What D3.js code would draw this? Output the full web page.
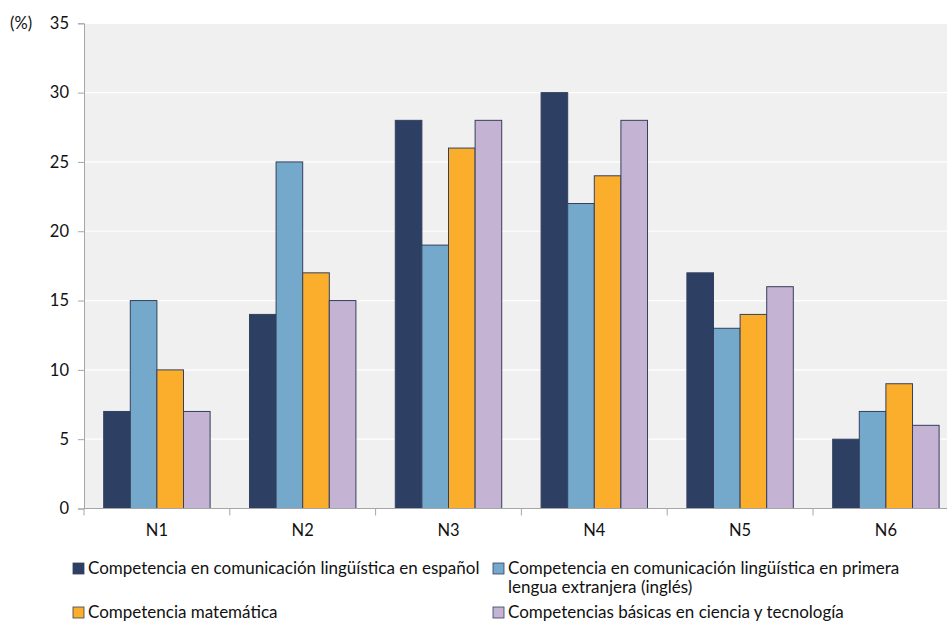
<!DOCTYPE html>
<html><head><meta charset="utf-8">
<script src="https://cdn.jsdelivr.net/npm/d3@7"></script>
<style>
body{margin:0;background:#fff;}
svg text{font-family:Lato,"Open Sans",sans-serif;fill:#111;}
</style></head>
<body><svg id="c" width="947" height="625"></svg>
<script>
const categories = ["N1","N2","N3","N4","N5","N6"];
const seriesNames = [
  "Competencia en comunicación lingüística en español",
  "Competencia en comunicación lingüística en primera lengua extranjera (inglés)",
  "Competencia matemática",
  "Competencias básicas en ciencia y tecnología"
];
const espanol = [7,14,28,30,17,5];
const ingles  = [15,25,19,22,13,7];
const matematica = [10,17,26,24,14,9];
const ciencia = [7,15,28,28,16,6];
const yTicks = [0,5,10,15,20,25,30,35];
const colors = ["#2d3f63","#74a9cb","#fbae2c","#c4b3d2"];

const series = [espanol, ingles, matematica, ciencia];
const svg = d3.select("#c");
const x0 = 84, bandW = 145.8;
const x = d3.scaleBand().domain(categories).range([x0, x0 + bandW*6]).paddingInner(0).paddingOuter(0);
const xs = d3.scaleBand().domain(d3.range(4)).range([0, x.bandwidth()]).paddingOuter(0.74).paddingInner(0);
const y = d3.scaleLinear().domain([0,35]).range([508.5, 23.3]);

svg.append("rect").attr("x", x0).attr("y", y(35)).attr("width", 947 - x0).attr("height", y(0)-y(35)).attr("fill","#f0f0f0");
svg.append("g").selectAll("line").data(yTicks.filter(d=>d>0)).join("line")
  .attr("x1", x0).attr("x2", 947).attr("y1", d=>y(d)).attr("y2", d=>y(d))
  .attr("stroke","#fff").attr("stroke-width",1.2);

const g = svg.append("g");
series.forEach((vals, si) => {
  g.append("g").selectAll("rect").data(vals).join("rect")
    .attr("x", (d,i)=>x(categories[i]) + xs(si))
    .attr("y", d=>y(d))
    .attr("width", xs.bandwidth())
    .attr("height", d=>y(0)-y(d))
    .attr("fill", colors[si])
    .attr("stroke", "#34405e").attr("stroke-width", 1);
});

const axisFont = 16.5;
const yAxis = d3.axisLeft(y).tickValues(yTicks).tickSize(6).tickPadding(9);
const ya = svg.append("g").attr("transform", `translate(${x0},0)`).call(yAxis);
ya.select(".domain").attr("stroke","#a6a6a6");
ya.selectAll(".tick line").attr("stroke","#a6a6a6");
ya.selectAll(".tick text").attr("font-size", axisFont).attr("font-family","Lato,sans-serif").attr("fill","#111");

const xAxis = d3.axisBottom(x).tickSize(0).tickPadding(16);
const xa = svg.append("g").attr("transform", `translate(0,${y(0)})`).call(xAxis);
xa.select(".domain").attr("stroke","#a6a6a6").attr("d", `M${x0},0H947`);
xa.selectAll(".tick text").attr("font-size", axisFont).attr("font-family","Lato,sans-serif").attr("fill","#111");
svg.append("g").selectAll("line").data(d3.range(7)).join("line")
  .attr("x1", i=>x0 + i*bandW).attr("x2", i=>x0 + i*bandW)
  .attr("y1", y(0)).attr("y2", y(0)+7).attr("stroke","#a6a6a6");

svg.append("text").attr("x", 10).attr("y", 29).attr("font-size", axisFont).text("(%)");

const legendItems = [
  {s:0, x:73, y:563, lines:[seriesNames[0]]},
  {s:1, x:493, y:563, lines:["Competencia en comunicación lingüística en primera","lengua extranjera (inglés)"]},
  {s:2, x:73, y:607, lines:[seriesNames[2]]},
  {s:3, x:493, y:607, lines:[seriesNames[3]]}
];
const lg = svg.append("g");
legendItems.forEach(it=>{
  lg.append("rect").attr("x", it.x).attr("y", it.y).attr("width", 11).attr("height", 11)
    .attr("fill", colors[it.s]).attr("stroke","#34405e").attr("stroke-width",0.8);
  it.lines.forEach((l,li)=>{
    lg.append("text").attr("x", it.x + 15).attr("y", it.y + 11 + li*19).attr("font-size", 17).text(l);
  });
});
</script></body></html>
